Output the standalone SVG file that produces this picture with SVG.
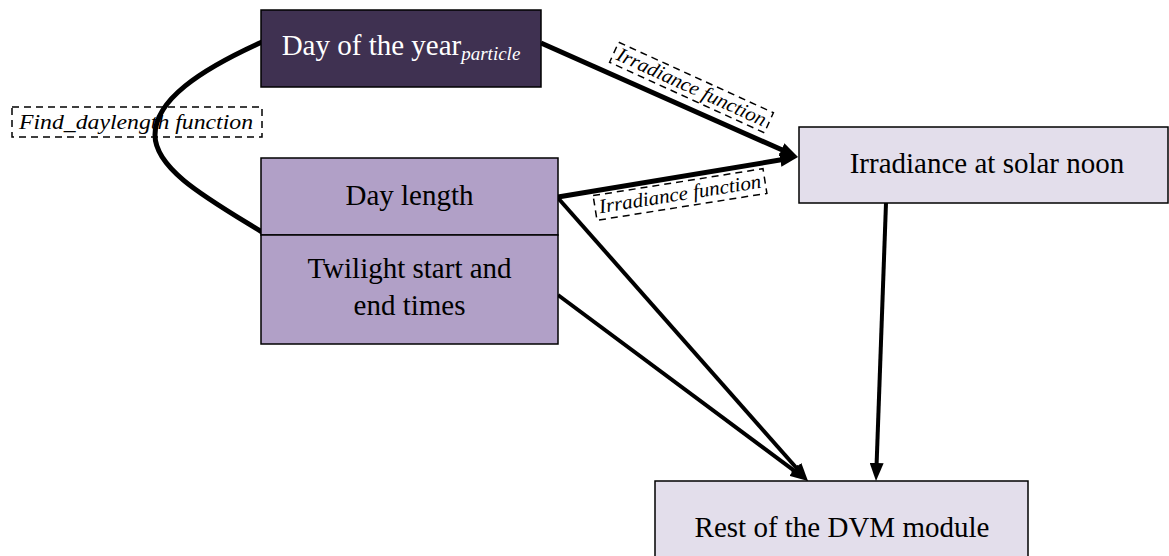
<svg xmlns="http://www.w3.org/2000/svg" width="1169" height="556" viewBox="0 0 1169 556">
<style>
.box{stroke:#000;stroke-width:1.5}
.t{font-family:"Liberation Serif","Times New Roman",serif;font-size:29px;fill:#000;text-anchor:middle}
.lbl{font-family:"Liberation Serif","Times New Roman",serif;font-style:italic;font-size:20px;fill:#000;text-anchor:middle}
.dash{fill:none;stroke:#000;stroke-width:1.5;stroke-dasharray:7 5}
.c{fill:none;stroke:#000;stroke-linecap:butt}
</style>
<defs>
<marker id="ah" viewBox="0 0 18 14" markerWidth="18" markerHeight="14" refX="4" refY="7" orient="auto" markerUnits="userSpaceOnUse">
<path d="M0,0 L18,7 L0,14 z" fill="#000"/>
</marker>
</defs>
<rect width="1169" height="556" fill="#fff"/>
<g id="connectors">
<path class="c" stroke-width="5" d="M262,42 C200,70 155,100 155,135 C155,170 210,200 262,232"/>
<line class="c" stroke-width="5" x1="541" y1="43" x2="785.2" y2="151.3" marker-end="url(#ah)"/>
<line class="c" stroke-width="5" x1="558" y1="197" x2="784.2" y2="159.3" marker-end="url(#ah)"/>
<line class="c" stroke-width="4" x1="558" y1="198" x2="798.7" y2="470.5" marker-end="url(#ah)"/>
<line class="c" stroke-width="4" x1="558" y1="295" x2="796.8" y2="472.6" marker-end="url(#ah)"/>
<line class="c" stroke-width="4" x1="886" y1="203" x2="876.5" y2="467" marker-end="url(#ah)"/>
</g>
<g id="label-find">
<rect class="dash" x="12" y="107" width="250" height="30"/>
<text class="lbl" x="136" y="129" font-size="22" textLength="234" lengthAdjust="spacingAndGlyphs">Find_daylength function</text>
</g>
<g id="label-irr-top" transform="translate(691.5,87.5) rotate(24.5)">
<rect class="dash" x="-85" y="-11" width="170" height="22"/>
<text class="lbl" x="0" y="6" textLength="162" lengthAdjust="spacingAndGlyphs">Irradiance function</text>
</g>
<g id="label-irr-bottom" transform="translate(680,194.5) rotate(-9)">
<rect class="dash" x="-86" y="-12.5" width="172" height="25"/>
<text class="lbl" x="0" y="6" textLength="164" lengthAdjust="spacingAndGlyphs">Irradiance function</text>
</g>
<g id="day-of-year">
<rect class="box" x="261" y="10" width="280" height="77" fill="#3f3151"/>
<text class="t" x="401" y="55" fill="#fff" style="fill:#fff" font-size="27.5">Day of the year<tspan font-style="italic" font-size="19" dy="5">particle</tspan></text>
</g>
<g id="day-length">
<rect class="box" x="261" y="158" width="297" height="77" fill="#b1a0c7"/>
<text class="t" x="409.5" y="205">Day length</text>
</g>
<g id="twilight">
<rect class="box" x="261" y="235" width="297" height="109" fill="#b1a0c7"/>
<text class="t" x="409.5" y="278">Twilight start and</text>
<text class="t" x="409.5" y="315">end times</text>
</g>
<g id="irradiance">
<rect class="box" x="799" y="127" width="369" height="76" fill="#e3deeb"/>
<text class="t" x="987" y="173">Irradiance at solar noon</text>
</g>
<g id="dvm">
<rect class="box" x="655" y="481" width="373" height="80" fill="#e3deeb"/>
<text class="t" x="842" y="537">Rest of the DVM module</text>
</g>
</svg>
